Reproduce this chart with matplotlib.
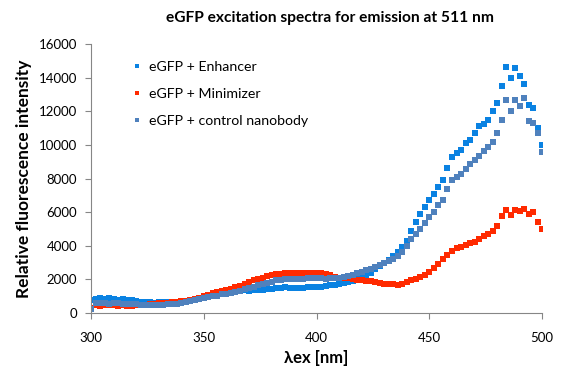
import numpy as np
import matplotlib.pyplot as plt

# excitation wavelengths, 2 nm steps
wl = np.arange(300, 501, 2)

enhancer = [
    750, 850, 900, 820, 880, 860, 800, 820, 780, 760,
    720, 680, 640, 660, 620, 650, 660, 640, 680, 660,
    700, 720, 750, 780, 820, 880, 960, 1030, 1100, 1150,
    1200, 1240, 1290, 1320, 1350, 1330, 1360, 1340, 1380, 1400,
    1450, 1480, 1500, 1520, 1500, 1490, 1480, 1500, 1520, 1540,
    1550, 1560, 1600, 1640, 1680, 1720, 1760, 1820, 1900, 2000,
    2150, 2270, 2400, 2600, 2800, 2950, 3150, 3380, 3600, 3950,
    4300, 4900, 5400, 5900, 6300, 6700, 7100, 7500, 7900, 8650,
    9300, 9500, 9700, 10100, 10300, 10700, 11100, 11250, 11500, 12000,
    12500, 13500, 14650, 14000, 14600, 14100, 13600, 12400, 12200, 11000,
    10000]

minimizer = [
    300, 450, 420, 480, 450, 470, 430, 460, 400, 420,
    450, 470, 480, 520, 550, 580, 600, 620, 650, 670,
    700, 740, 790, 850, 920, 1000, 1080, 1170, 1230, 1300,
    1360, 1420, 1520, 1620, 1740, 1850, 1950, 2050, 2100, 2200,
    2250, 2300, 2330, 2350, 2380, 2360, 2390, 2400, 2380, 2400,
    2390, 2350, 2300, 2250, 2150, 2080, 2060, 2070, 2020, 1990,
    1960, 1930, 1880, 1820, 1780, 1750, 1720, 1700, 1670, 1720,
    1850, 1950, 2000, 2150, 2260, 2450, 2650, 2900, 3200, 3450,
    3700, 3850, 3950, 4050, 4150, 4250, 4400, 4560, 4700, 4900,
    5200, 5800, 6150, 5850, 6150, 6050, 6200, 5900, 6000, 5400,
    5000]

control = [
    250, 620, 580, 600, 560, 580, 600, 560, 540, 560,
    520, 500, 480, 500, 490, 480, 500, 520, 540, 560,
    600, 640, 700, 760, 820, 880, 940, 990, 1040, 1100,
    1150, 1200, 1260, 1330, 1420, 1480, 1560, 1650, 1740, 1790,
    1860, 1940, 1990, 2000, 2020, 2040, 2020, 2050, 2080, 2100,
    2090, 2060, 2050, 2060, 2070, 2080, 2130, 2200, 2280, 2360,
    2450, 2560, 2640, 2740, 2860, 2980, 3100, 3230, 3380, 3650,
    4000, 4400, 4700, 5000, 5350, 5700, 6000, 6400, 6750, 7400,
    7900, 8100, 8300, 8550, 8850, 9100, 9350, 9650, 9900, 10200,
    10700, 11500, 12700, 12000, 12700, 12300, 12800, 11400, 11300, 10700,
    9600]

plt.rcParams['font.family'] = ['Lato', 'DejaVu Sans']
grey = '#868686'

fig = plt.figure(figsize=(5.66, 3.76), dpi=100)
ax = fig.add_axes([0.161, 0.1676, 0.797, 0.715])

ms = 4.0
ax.plot(wl, enhancer, 's', ms=ms, mew=0, color='#0A82E2', label='eGFP + Enhancer')
ax.plot(wl, minimizer, 's', ms=ms, mew=0, color='#FF2A00', label='eGFP + Minimizer')
ax.plot(wl, control, 's', ms=ms, mew=0, color='#4F81BD', label='eGFP + control nanobody')

ax.set_xlim(300, 500)
ax.set_ylim(0, 16000)
ax.set_xticks(np.arange(300, 501, 50))
ax.set_yticks(np.arange(0, 16001, 2000))
ax.tick_params(direction='out', length=4, color=grey, labelsize=9.5)
ax.tick_params(axis='x', pad=10)
ax.tick_params(axis='y', pad=6)
for s in ['top', 'right']:
    ax.spines[s].set_visible(False)
for s in ['left', 'bottom']:
    ax.spines[s].set_color(grey)

ax.set_xlabel('λex [nm]', fontsize=12, fontweight='bold', labelpad=4)
ax.set_ylabel('Relative fluorescence intensity', fontsize=12.5, fontweight='bold', labelpad=5)
fig.text(330 / 566, 1 - 18 / 376, 'eGFP excitation spectra for emission at 511 nm',
         ha='center', va='center', fontsize=11.2, fontweight='bold')

ax.legend(loc='upper left', bbox_to_anchor=(0.065, 0.985), frameon=False,
          fontsize=10.2, handlelength=0.6, handletextpad=0.55, labelspacing=1.05,
          markerscale=0.8)

fig.savefig('out.png', dpi=100)
